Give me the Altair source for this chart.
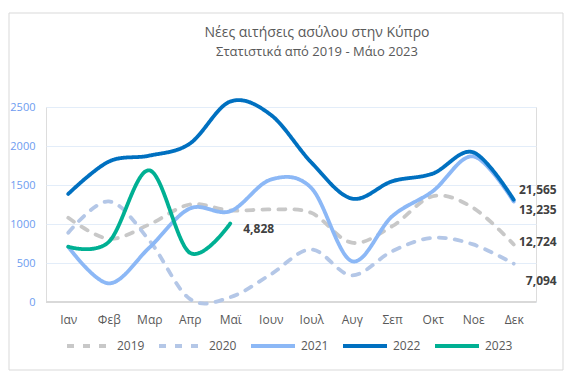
import altair as alt
import pandas as pd

months = ["Ιαν", "Φεβ", "Μαρ", "Απρ", "Μαϊ", "Ιουν", "Ιουλ", "Αυγ", "Σεπ", "Οκτ", "Νοε", "Δεκ"]
years = ["2019", "2020", "2021", "2022", "2023"]

v2019 = [1079, 811, 994, 1250, 1173, 1186, 1143, 760, 972, 1356, 1207, 738]
v2020 = [888, 1290, 790, 40, 61, 354, 674, 342, 652, 823, 738, 491]
v2021 = [708, 239, 696, 1198, 1164, 1569, 1463, 524, 1100, 1420, 1867, 1287]
v2022 = [1386, 1800, 1876, 2030, 2570, 2400, 1790, 1326, 1548, 1646, 1919, 1311]
v2023 = [708, 770, 1688, 632, 1007]

totals = [12724, 7094, 13235, 21565, 4828]

y_ticks = [0, 500, 1000, 1500, 2000, 2500]

title_lines = ["Νέες αιτήσεις ασύλου στην Κύπρο", "Στατιστικά από 2019 - Μάιο 2023"]

colors = ["#c8c8c8", "#b4c7e7", "#8cb8f6", "#0070c0", "#00b093"]
dashes = [[7, 9], [7, 9], [1, 0], [1, 0], [1, 0]]

series = dict(zip(years, [v2019, v2020, v2021, v2022, v2023]))
rows = []
for y, vals in series.items():
    for i, v in enumerate(vals):
        rows.append({"year": y, "month": months[i], "value": v, "idx": i})
df = pd.DataFrame(rows)

lab_rows = []
for y, t in zip(years, totals):
    vals = series[y]
    lab_rows.append({"year": y, "month": months[len(vals) - 1], "value": vals[-1], "total": t})
labdf = pd.DataFrame(lab_rows)

FONT = "Open Sans"
YSCALE = alt.Scale(domain=[0, 2500], nice=False, zero=True)
XSCALE = alt.Scale(type="point", padding=0.55)

XAXIS = alt.Axis(title=None, labelAngle=0, ticks=False, domain=False,
                 labelPadding=12, labelColor="#595959", labelFontSize=12,
                 labelFont=FONT, grid=False)
YAXIS = alt.Axis(title=None, values=y_ticks,
                 format="d", labelOverlap=False,
                 ticks=False, domain=False, labelPadding=11,
                 labelColor="#6d9cf0", labelFontSize=11, labelFont=FONT,
                 grid=True, gridColor="#e3edf9", gridWidth=1)


def xenc():
    return alt.X("month:O", sort=months, scale=XSCALE, axis=XAXIS)


def yenc():
    return alt.Y("value:Q", scale=YSCALE, axis=YAXIS)


border = alt.Chart(pd.DataFrame({"a": [0]})).mark_rect(
    fillOpacity=0, stroke="#d9d9d9", strokeWidth=1
).encode(x=alt.value(-37), x2=alt.value(517), y=alt.value(-94), y2=alt.value(263))

title1 = alt.Chart(pd.DataFrame({"t": [title_lines[0]]})).mark_text(
    font=FONT, fontSize=14, color="#595959", align="center", baseline="middle"
).encode(text="t:N", x=alt.value(271), y=alt.value(-74))
title2 = alt.Chart(pd.DataFrame({"t": [title_lines[1]]})).mark_text(
    font=FONT, fontSize=13, color="#595959", align="center", baseline="middle"
).encode(text="t:N", x=alt.value(271), y=alt.value(-55))

zero = alt.Chart(pd.DataFrame({"value": [0]})).mark_rule(color="#d9d9d9", strokeWidth=2).encode(
    y=yenc()
)

leg = dict(title=None, orient="none", direction="horizontal",
           legendX=19, legendY=215, padding=0,
           symbolType="stroke", symbolSize=1936,
           symbolStrokeWidth=4, labelOffset=4,
           columnPadding=6, labelFontSize=12,
           labelColor="#595959", labelFont=FONT)

lines = alt.Chart(df).mark_line(
    interpolate="cardinal", strokeWidth=3.8, strokeCap="round"
).encode(
    x=xenc(),
    y=yenc(),
    color=alt.Color("year:N", scale=alt.Scale(domain=years, range=colors),
                    legend=alt.Legend(**leg)),
    strokeDash=alt.StrokeDash("year:N", scale=alt.Scale(domain=years, range=dashes),
                              legend=alt.Legend(**leg)),
    order="idx:Q",
)

offsets = {"2019": (-2, 43, "right"), "2020": (17, 43, "right"), "2021": (8, 43, "right"),
           "2022": (-10, 43, "right"), "2023": (6, 13, "left")}
label_layers = []
for y in years:
    dy, dx, align = offsets[y]
    label_layers.append(
        alt.Chart(labdf[labdf["year"] == y]).mark_text(
            align=align, baseline="middle", dx=dx, dy=dy, fontWeight="bold",
            fontSize=12, color="#404040", font=FONT
        ).encode(
            x=xenc(),
            y=yenc(),
            text=alt.Text("total:Q", format=","),
        )
    )

chart = alt.layer(border, title1, title2, zero, lines, *label_layers).properties(
    width=490, height=195,
    autosize=alt.AutoSizeParams(type="none"),
    padding={"left": 46, "top": 107, "right": 35, "bottom": 75},
).configure_view(stroke=None).configure(background="white")

chart.save("out.html", embed_options={"renderer": "svg", "actions": False})
